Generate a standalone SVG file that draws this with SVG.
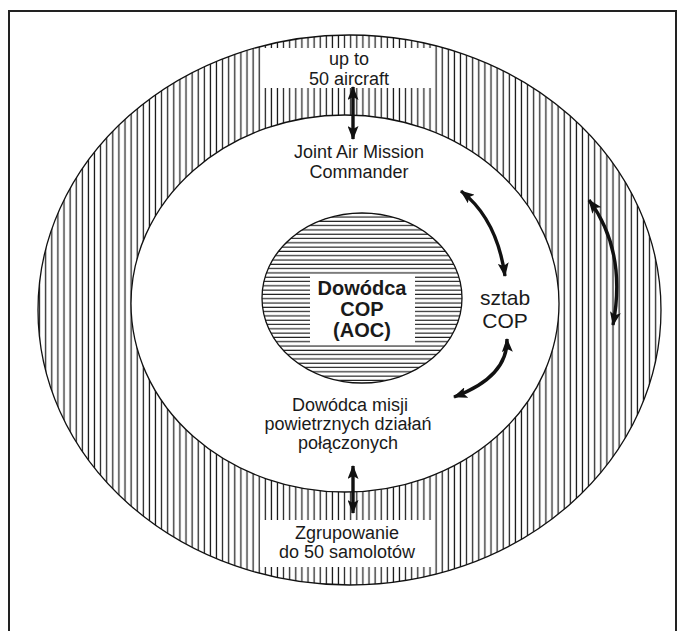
<svg xmlns="http://www.w3.org/2000/svg" width="683" height="631" viewBox="0 0 683 631">
<defs>
<pattern id="vh" patternUnits="userSpaceOnUse" x="0" y="0" width="6.1" height="10">
<rect width="6.1" height="10" fill="#fff"/>
<line x1="3" y1="0" x2="3" y2="10" stroke="#111" stroke-width="1.2"/>
</pattern>
<pattern id="hh" patternUnits="userSpaceOnUse" x="0" y="0" width="10" height="4.3">
<rect width="10" height="4.3" fill="#fff"/>
<line x1="0" y1="2" x2="10" y2="2" stroke="#111" stroke-width="1.1"/>
</pattern>
<marker id="ah" viewBox="0 0 14 11" refX="13" refY="5.5" markerWidth="14" markerHeight="11" markerUnits="userSpaceOnUse" orient="auto-start-reverse">
<path d="M0,0 L14,5.5 L0,11 L3,5.5 z" fill="#111"/>
</marker>
<style>
.t{font-family:"Liberation Sans",Arial,sans-serif;font-size:18px;fill:#1a1a1a;text-anchor:middle}
.b{font-weight:bold;font-size:20px}
.s{font-size:21px}
.c{fill:none;stroke:#111;stroke-width:3.4;marker-start:url(#ah);marker-end:url(#ah)}
</style>
</defs>
<rect width="683" height="631" fill="#fff"/>
<g id="frame" fill="none" stroke="#222" stroke-width="2">
<path d="M9,631 L9,11 L676,11 L676,631"/>
</g>
<g id="outer-ring">
<ellipse cx="349.5" cy="310" rx="311.5" ry="275" fill="url(#vh)" stroke="#111" stroke-width="1.3"/>
</g>
<g id="top-box">
<rect x="263" y="48" width="170" height="40" fill="#fff"/>
<text class="t" x="349" y="65">up to</text>
<text class="t" x="349" y="85">50 aircraft</text>
</g>
<g id="bottom-box">
<rect x="260" y="520" width="172" height="47" fill="#fff"/>
<text class="t" x="347" y="539">Zgrupowanie</text>
<text class="t" x="347" y="558">do 50 samolotów</text>
</g>
<g id="inner-ring">
<ellipse cx="345" cy="303.5" rx="214" ry="188.5" fill="#fff" stroke="#111" stroke-width="1.3"/>
<text class="t" x="359" y="158">Joint Air Mission</text>
<text class="t" x="359" y="178">Commander</text>
<text class="t" x="350" y="411">Dowódca misji</text>
<text class="t" x="348" y="430">powietrznych działań</text>
<text class="t" x="348" y="449">połączonych</text>
<text class="t s" x="505" y="305">sztab</text>
<text class="t s" x="505" y="328">COP</text>
</g>
<g id="center">
<ellipse cx="362" cy="298" rx="100" ry="85" fill="url(#hh)" stroke="#111" stroke-width="1.3"/>
<rect x="310" y="276" width="105" height="69" fill="#fff"/>
<text class="t b" x="362" y="295">Dowódca</text>
<text class="t b" x="362" y="316">COP</text>
<text class="t b" x="362" y="337">(AOC)</text>
</g>
<g id="connectors">
<path class="c" d="M353,87 L353,139"/>
<path class="c" d="M353,466 L353,513"/>
<path class="c" d="M461,191 Q497,219 505,276"/>
<path class="c" d="M507,339 Q508,377 454,397"/>
<path class="c" d="M589,200 Q627,251 613,325"/>
</g>
</svg>
